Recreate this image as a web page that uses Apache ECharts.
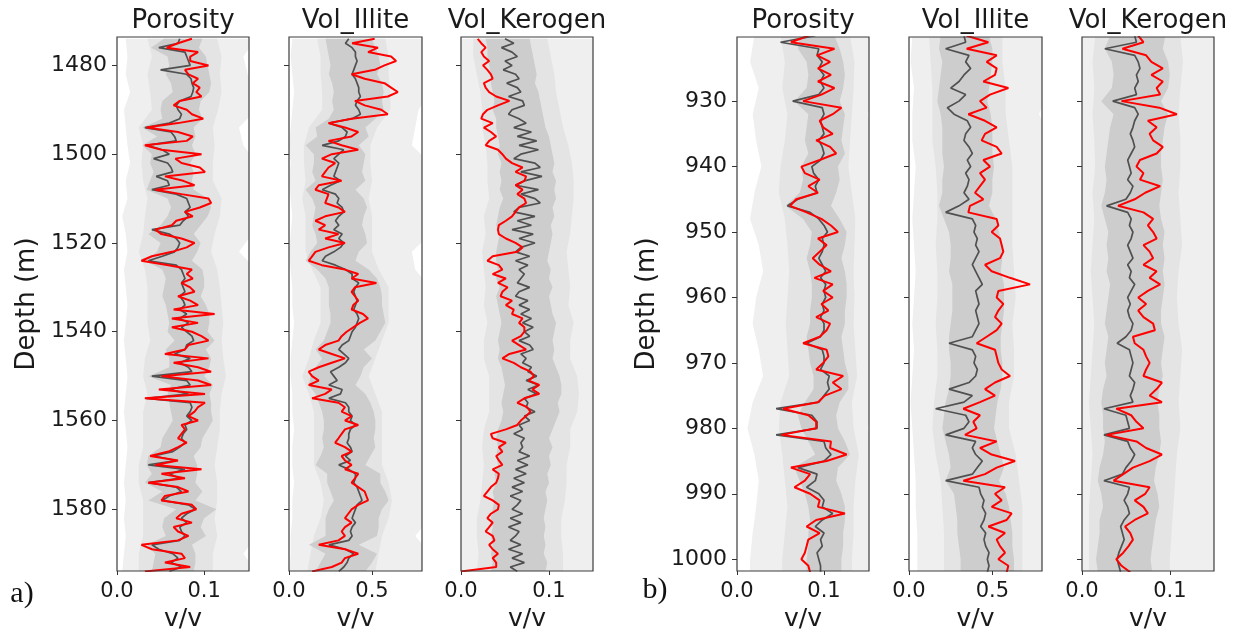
<!DOCTYPE html>
<html><head><meta charset="utf-8">
<script src="https://cdn.jsdelivr.net/npm/echarts@6/dist/echarts.min.js"></script>
<style>html,body{margin:0;padding:0;background:#fff}#c{width:1242px;height:636px}</style>
</head><body><div id="c"></div>
<script>
// ---------------- depth grids ----------------
const depthA = [1474,1475,1476,1477,1478,1479,1480,1481,1482,1483,
1484,1485,1486,1487,1488,1489,1490,1491,1492,1493,
1494,1495,1496,1497,1498,1499,1500,1501,1502,1503,
1504,1505,1506,1507,1508,1509,1510,1511,1512,1513,
1514,1515,1516,1517,1518,1519,1520,1521,1522,1523,
1524,1525,1526,1527,1528,1529,1530,1531,1532,1533,
1534,1535,1536,1537,1538,1539,1540,1541,1542,1543,
1544,1545,1546,1547,1548,1549,1550,1551,1552,1553,
1554,1555,1556,1557,1558,1559,1560,1561,1562,1563,
1564,1565,1566,1567,1568,1569,1570,1571,1572,1573,
1574,1575,1576,1577,1578,1579,1580,1581,1582,1583,
1584,1585,1586,1587,1588,1589,1590,1591,1592,1593,
1594];
const depthA2 = [1474,1476,1478,1480,1482,1484,1486,1488,1490,1492,
1494,1496,1498,1500,1502,1504,1506,1508,1510,1512,
1514,1516,1518,1520,1522,1524,1526,1528,1530,1532,
1534,1536,1538,1540,1542,1544,1546,1548,1550,1552,
1554,1556,1558,1560,1562,1564,1566,1568,1570,1572,
1574,1576,1578,1580,1582,1584,1586,1588,1590,1592,
1594];
const depthA4 = [1474,1478,1482,1486,1490,1494,1498,1502,1506,1510,1514,1518,1522,1526,1530,1534,1538,1542,1546,1550,1554,1558,1562,1566,1570,1574,1578,1582,1586,1590,1594];
const depthB = [920,921,922,923,924,925,926,927,928,929,
930,931,932,933,934,935,936,937,938,939,
940,941,942,943,944,945,946,947,948,949,
950,951,952,953,954,955,956,957,958,959,
960,961,962,963,964,965,966,967,968,969,
970,971,972,973,974,975,976,977,978,979,
980,981,982,983,984,985,986,987,988,989,
990,991,992,993,994,995,996,997,998,999,
1000,1001,1002];
const depthB2 = [920,922,924,926,928,930,932,934,936,938,
940,942,944,946,948,950,952,954,956,958,
960,962,964,966,968,970,972,974,976,978,
980,982,984,986,988,990,992,994,996,998,
1000,1002];
const depthB4 = [920,924,928,932,936,940,944,948,952,956,960,964,968,972,976,980,984,988,992,996,1000,1004];

// ---------------- a) Porosity ----------------
const porTrueA = [0.086,0.070,0.057,0.093,0.084,0.084,0.105,0.078,0.082,0.093,
0.087,0.095,0.091,0.097,0.072,0.065,0.080,0.086,0.099,0.070,
0.034,0.070,0.087,0.080,0.032,0.051,0.097,0.067,0.074,0.095,
0.101,0.055,0.076,0.089,0.044,0.074,0.105,0.108,0.095,0.078,
0.087,0.068,0.063,0.044,0.051,0.074,0.089,0.080,0.063,0.040,
0.028,0.059,0.086,0.080,0.087,0.074,0.084,0.089,0.070,0.084,
0.093,0.065,0.112,0.063,0.093,0.063,0.086,0.097,0.105,0.082,
0.078,0.055,0.105,0.065,0.093,0.108,0.051,0.093,0.108,0.048,
0.101,0.032,0.101,0.093,0.089,0.082,0.093,0.074,0.078,0.074,
0.070,0.080,0.070,0.059,0.038,0.070,0.044,0.097,0.051,0.078,
0.036,0.070,0.082,0.055,0.051,0.086,0.091,0.074,0.068,0.086,
0.065,0.070,0.082,0.070,0.028,0.040,0.074,0.078,0.055,0.084,
0.032];
const porMeanA = [0.072,0.070,0.048,0.078,0.080,0.082,0.084,0.050,0.080,0.085,
0.086,0.088,0.087,0.085,0.072,0.068,0.070,0.074,0.072,0.060,
0.032,0.062,0.066,0.068,0.034,0.052,0.060,0.042,0.058,0.062,
0.064,0.045,0.058,0.060,0.040,0.068,0.080,0.082,0.084,0.078,
0.082,0.076,0.072,0.040,0.060,0.068,0.072,0.070,0.066,0.052,
0.036,0.068,0.074,0.076,0.078,0.074,0.076,0.078,0.072,0.076,
0.078,0.072,0.080,0.072,0.082,0.074,0.080,0.086,0.088,0.080,
0.078,0.066,0.084,0.072,0.082,0.086,0.040,0.080,0.084,0.060,
0.082,0.034,0.084,0.086,0.084,0.080,0.086,0.078,0.080,0.076,
0.074,0.078,0.072,0.064,0.042,0.068,0.036,0.078,0.060,0.072,
0.036,0.068,0.074,0.060,0.052,0.082,0.090,0.080,0.074,0.080,
0.072,0.074,0.078,0.072,0.040,0.048,0.064,0.070,0.062,0.074,
0.060];
const porInLoA = [0.054,0.039,0.058,0.060,0.056,0.062,0.064,0.052,0.050,0.052,
0.029,0.046,0.029,0.040,0.038,0.042,0.038,0.034,0.058,0.062,
0.058,0.050,0.036,0.050,0.046,0.032,0.052,0.056,0.054,0.052,
0.056,0.058,0.060,0.058,0.066,0.056,0.060,0.060,0.036,0.062,
0.058,0.060,0.062,0.064,0.058,0.052,0.050,0.036,0.034,0.040,
0.032,0.052,0.036,0.068,0.054,0.052,0.056,0.034,0.044,0.042,
0.040];
const porInHiA = [0.098,0.094,0.102,0.104,0.106,0.108,0.106,0.096,0.094,0.098,
0.088,0.090,0.086,0.090,0.084,0.088,0.086,0.088,0.104,0.108,
0.104,0.096,0.088,0.096,0.092,0.086,0.098,0.100,0.100,0.096,
0.102,0.106,0.106,0.104,0.112,0.102,0.108,0.106,0.100,0.110,
0.106,0.108,0.108,0.110,0.104,0.098,0.096,0.088,0.092,0.092,
0.090,0.098,0.090,0.114,0.100,0.096,0.102,0.086,0.090,0.090,
0.088];
const porMidLoA = [0.035,0.040,0.035,0.038,0.040,0.025,0.030,0.028,0.030,0.035,0.032,0.030,0.025,0.032,0.035,0.035,0.035,0.038,0.032,0.030,0.035,0.030,0.030,0.030,0.025,0.025,0.030,0.030,0.030,0.025,0.025];
const porMidHiA = [0.115,0.120,0.118,0.120,0.116,0.110,0.112,0.110,0.110,0.120,0.118,0.112,0.108,0.115,0.118,0.120,0.122,0.120,0.122,0.125,0.120,0.118,0.118,0.115,0.112,0.115,0.115,0.112,0.115,0.110,0.110];
const porOutLoA = [0.010,0.012,0.010,0.015,0.008,0.010,0.012,0.015,0.010,0.012,0.006,0.010,0.012,0.008,0.010,0.012,0.010,0.008,0.010,0.012,0.010,0.008,0.010,0.012,0.010,0.008,0.010,0.008,0.010,0.008,0.006];
const porOutHiA = [0.160,0.145,0.150,0.160,0.160,0.140,0.145,0.160,0.160,0.160,0.160,0.155,0.140,0.160,0.160,0.160,0.160,0.160,0.160,0.160,0.150,0.160,0.160,0.160,0.160,0.160,0.160,0.155,0.160,0.145,0.160];

// ---------------- a) Vol_Illite ----------------
const illTrueA = [0.516,0.380,0.536,0.476,0.615,0.645,0.575,0.516,0.377,0.456,
0.575,0.615,0.655,0.595,0.397,0.456,0.556,0.595,0.377,0.238,
0.337,0.417,0.377,0.238,0.317,0.417,0.258,0.198,0.278,0.238,
0.218,0.198,0.317,0.179,0.159,0.238,0.228,0.218,0.298,0.337,
0.218,0.159,0.218,0.179,0.298,0.218,0.337,0.238,0.159,0.139,
0.119,0.198,0.337,0.417,0.377,0.526,0.397,0.377,0.397,0.417,
0.387,0.377,0.446,0.476,0.427,0.387,0.347,0.317,0.298,0.218,
0.179,0.258,0.337,0.258,0.179,0.119,0.139,0.179,0.119,0.258,
0.218,0.139,0.298,0.337,0.317,0.377,0.337,0.417,0.337,0.317,
0.298,0.278,0.337,0.377,0.317,0.337,0.377,0.337,0.417,0.397,
0.377,0.417,0.456,0.466,0.476,0.417,0.377,0.357,0.337,0.377,
0.337,0.317,0.337,0.298,0.179,0.337,0.417,0.337,0.317,0.258,
0.139];
const illMeanA = [0.36,0.34,0.38,0.40,0.40,0.41,0.40,0.39,0.38,0.40,
0.41,0.42,0.42,0.43,0.41,0.40,0.42,0.43,0.38,0.24,
0.32,0.35,0.34,0.30,0.20,0.33,0.30,0.27,0.30,0.29,
0.28,0.27,0.31,0.25,0.20,0.28,0.30,0.29,0.32,0.33,
0.30,0.28,0.30,0.27,0.32,0.30,0.33,0.31,0.27,0.22,
0.20,0.28,0.34,0.38,0.38,0.42,0.40,0.39,0.40,0.41,
0.40,0.39,0.41,0.42,0.41,0.40,0.38,0.37,0.36,0.32,
0.30,0.33,0.36,0.34,0.30,0.25,0.27,0.29,0.24,0.32,
0.31,0.24,0.34,0.36,0.36,0.38,0.37,0.40,0.37,0.36,
0.36,0.35,0.37,0.38,0.34,0.37,0.30,0.36,0.40,0.40,
0.39,0.41,0.42,0.43,0.44,0.41,0.40,0.39,0.38,0.40,
0.38,0.37,0.38,0.36,0.24,0.34,0.39,0.36,0.35,0.33,
0.30];
const illInLoA = [0.22,0.23,0.24,0.25,0.24,0.26,0.27,0.26,0.27,0.24,
0.16,0.17,0.10,0.15,0.15,0.14,0.16,0.10,0.14,0.16,
0.15,0.14,0.16,0.17,0.13,0.10,0.17,0.22,0.24,0.24,
0.24,0.25,0.25,0.23,0.21,0.16,0.20,0.16,0.13,0.12,
0.16,0.18,0.20,0.21,0.21,0.20,0.21,0.19,0.16,0.23,
0.23,0.25,0.27,0.24,0.22,0.22,0.22,0.12,0.22,0.19,
0.16];
const illInHiA = [0.50,0.52,0.54,0.55,0.53,0.56,0.57,0.56,0.57,0.52,
0.46,0.48,0.42,0.46,0.45,0.44,0.46,0.40,0.45,0.47,
0.45,0.44,0.46,0.47,0.42,0.40,0.48,0.53,0.55,0.56,
0.56,0.57,0.58,0.55,0.52,0.45,0.50,0.45,0.43,0.40,
0.46,0.49,0.51,0.52,0.52,0.51,0.52,0.49,0.46,0.55,
0.55,0.58,0.60,0.56,0.54,0.54,0.53,0.42,0.53,0.50,
0.46];
const illMidLoA = [0.17,0.19,0.19,0.20,0.20,0.12,0.09,0.09,0.10,0.08,0.10,0.10,0.10,0.14,0.19,0.19,0.19,0.15,0.12,0.08,0.12,0.15,0.15,0.15,0.15,0.19,0.21,0.19,0.15,0.13,0.11];
const illMidHiA = [0.58,0.60,0.60,0.61,0.61,0.53,0.49,0.49,0.50,0.48,0.50,0.50,0.50,0.54,0.60,0.60,0.60,0.56,0.52,0.48,0.52,0.56,0.56,0.56,0.56,0.60,0.62,0.60,0.56,0.54,0.52];
const illOutLoA = [0.02,0.01,0.02,0.03,0.02,0.01,0.00,0.01,0.00,0.01,0.02,0.01,0.00,0.01,0.02,0.02,0.03,0.02,0.01,0.01,0.02,0.02,0.03,0.02,0.02,0.03,0.02,0.02,0.01,0.01,0.00];
const illOutHiA = [0.85,0.85,0.85,0.85,0.78,0.76,0.74,0.85,0.85,0.85,0.85,0.85,0.74,0.76,0.85,0.85,0.85,0.85,0.85,0.85,0.85,0.85,0.85,0.85,0.85,0.85,0.85,0.85,0.76,0.85,0.85];

// ---------------- a) Vol_Kerogen ----------------
const kerTrueA = [0.019,0.023,0.028,0.023,0.026,0.032,0.025,0.030,0.034,0.036,
0.026,0.028,0.032,0.040,0.055,0.042,0.030,0.025,0.023,0.036,
0.026,0.034,0.040,0.032,0.028,0.042,0.047,0.051,0.058,0.070,
0.062,0.074,0.072,0.062,0.070,0.064,0.072,0.074,0.066,0.062,
0.058,0.051,0.043,0.042,0.043,0.051,0.062,0.070,0.064,0.036,
0.030,0.043,0.047,0.036,0.051,0.042,0.053,0.047,0.045,0.058,
0.051,0.060,0.058,0.070,0.066,0.072,0.072,0.068,0.058,0.066,
0.074,0.055,0.047,0.060,0.068,0.079,0.083,0.077,0.089,0.081,
0.089,0.072,0.064,0.075,0.079,0.074,0.068,0.064,0.051,0.034,
0.036,0.051,0.043,0.047,0.040,0.043,0.047,0.036,0.043,0.042,
0.040,0.034,0.030,0.026,0.036,0.043,0.042,0.034,0.030,0.036,
0.032,0.028,0.036,0.038,0.032,0.036,0.042,0.036,0.040,0.040,
0.000];
const kerMeanA = [0.050,0.060,0.046,0.058,0.064,0.050,0.058,0.048,0.062,0.066,
0.052,0.064,0.068,0.054,0.070,0.072,0.058,0.054,0.066,0.074,
0.060,0.080,0.064,0.086,0.066,0.088,0.068,0.060,0.084,0.090,
0.068,0.092,0.072,0.062,0.088,0.068,0.084,0.090,0.066,0.060,
0.084,0.064,0.080,0.058,0.082,0.066,0.084,0.068,0.062,0.078,
0.062,0.076,0.066,0.072,0.068,0.064,0.078,0.066,0.062,0.076,
0.066,0.078,0.068,0.080,0.070,0.082,0.072,0.078,0.066,0.078,
0.082,0.068,0.074,0.070,0.080,0.076,0.086,0.074,0.088,0.076,
0.086,0.072,0.076,0.074,0.084,0.072,0.078,0.066,0.070,0.060,
0.072,0.068,0.070,0.066,0.078,0.064,0.076,0.062,0.074,0.060,
0.072,0.058,0.070,0.056,0.068,0.064,0.058,0.070,0.056,0.068,
0.054,0.066,0.062,0.056,0.068,0.054,0.070,0.058,0.072,0.056,
0.064];
const kerInLoA = [0.028,0.030,0.030,0.032,0.034,0.034,0.036,0.038,0.036,0.040,
0.040,0.042,0.044,0.042,0.046,0.044,0.046,0.044,0.048,0.044,
0.042,0.040,0.044,0.042,0.040,0.040,0.042,0.040,0.044,0.040,
0.042,0.044,0.046,0.044,0.042,0.044,0.042,0.046,0.048,0.050,
0.048,0.046,0.048,0.046,0.042,0.040,0.042,0.040,0.042,0.038,
0.040,0.036,0.038,0.036,0.034,0.036,0.034,0.036,0.034,0.036,
0.034];
const kerInHiA = [0.078,0.080,0.082,0.084,0.086,0.084,0.088,0.090,0.092,0.094,
0.096,0.100,0.102,0.104,0.106,0.104,0.108,0.106,0.108,0.104,
0.106,0.102,0.104,0.102,0.100,0.098,0.102,0.100,0.104,0.100,
0.102,0.104,0.108,0.106,0.104,0.106,0.104,0.108,0.112,0.114,
0.114,0.110,0.112,0.108,0.104,0.100,0.104,0.100,0.102,0.098,
0.100,0.096,0.098,0.096,0.094,0.096,0.094,0.096,0.094,0.098,
0.096];
const kerMidLoA = [0.014,0.014,0.018,0.022,0.024,0.024,0.028,0.030,0.030,0.032,0.026,0.028,0.024,0.026,0.028,0.026,0.030,0.026,0.026,0.032,0.032,0.032,0.026,0.024,0.026,0.024,0.022,0.018,0.018,0.020,0.018];
const kerMidHiA = [0.098,0.102,0.106,0.108,0.112,0.116,0.122,0.126,0.128,0.128,0.126,0.124,0.120,0.122,0.124,0.122,0.128,0.124,0.124,0.132,0.134,0.132,0.124,0.124,0.120,0.120,0.118,0.114,0.114,0.116,0.116];
const kerOutLoA = [0,0,0,0,0,0,0,0,0,0,0,0,0,0,0,0,0,0,0,0,0,0,0,0,0,0,0,0,0,0,0];
const kerOutHiA = [0.17,0.17,0.17,0.17,0.17,0.17,0.17,0.17,0.17,0.17,0.17,0.17,0.17,0.17,0.17,0.17,0.17,0.17,0.17,0.17,0.17,0.17,0.17,0.17,0.17,0.17,0.17,0.17,0.17,0.17,0.17];

// ---------------- b) Porosity ----------------
const porTrueB = [0.082,0.062,0.112,0.092,0.107,0.093,0.108,0.093,0.112,0.097,
0.076,0.120,0.110,0.095,0.099,0.110,0.091,0.107,0.114,0.095,
0.074,0.078,0.095,0.082,0.093,0.068,0.061,0.080,0.097,0.108,
0.116,0.093,0.103,0.095,0.087,0.095,0.108,0.089,0.110,0.099,
0.110,0.097,0.105,0.091,0.107,0.103,0.095,0.076,0.103,0.105,
0.099,0.091,0.122,0.110,0.120,0.101,0.093,0.053,0.082,0.091,
0.091,0.051,0.108,0.107,0.126,0.103,0.062,0.084,0.078,0.066,
0.084,0.095,0.093,0.124,0.091,0.080,0.095,0.082,0.080,0.078,
0.074,0.082,0.084];
const porMeanB = [0.090,0.050,0.094,0.092,0.098,0.094,0.100,0.096,0.100,0.094,
0.064,0.098,0.100,0.096,0.098,0.100,0.094,0.098,0.100,0.096,
0.086,0.088,0.094,0.090,0.092,0.070,0.058,0.084,0.094,0.100,
0.104,0.098,0.100,0.098,0.094,0.098,0.102,0.096,0.102,0.100,
0.102,0.098,0.100,0.096,0.100,0.100,0.096,0.080,0.098,0.100,
0.100,0.096,0.106,0.104,0.106,0.100,0.094,0.045,0.086,0.092,
0.092,0.045,0.100,0.102,0.108,0.100,0.070,0.092,0.090,0.080,
0.094,0.100,0.098,0.110,0.098,0.090,0.100,0.096,0.098,0.092,
0.094,0.096,0.096];
const porInLoB = [0.072,0.070,0.080,0.082,0.080,0.066,0.082,0.080,0.078,0.082,
0.074,0.076,0.072,0.056,0.076,0.086,0.084,0.080,0.084,0.086,
0.086,0.084,0.084,0.080,0.082,0.084,0.088,0.088,0.078,0.070,
0.074,0.082,0.090,0.066,0.072,0.078,0.082,0.084,0.082,0.082,
0.080,0.080];
const porInHiB = [0.112,0.118,0.122,0.124,0.122,0.118,0.124,0.122,0.120,0.124,
0.116,0.118,0.114,0.108,0.118,0.126,0.124,0.120,0.124,0.126,
0.126,0.124,0.124,0.120,0.122,0.124,0.128,0.128,0.118,0.114,
0.116,0.124,0.130,0.116,0.114,0.120,0.124,0.124,0.122,0.122,
0.120,0.120];
const porMidLoB = [0.050,0.055,0.052,0.058,0.055,0.050,0.048,0.055,0.058,0.060,0.058,0.056,0.058,0.060,0.050,0.048,0.052,0.055,0.058,0.055,0.052,0.052];
const porMidHiB = [0.130,0.135,0.134,0.132,0.130,0.128,0.132,0.136,0.135,0.134,0.135,0.134,0.136,0.138,0.132,0.134,0.140,0.136,0.134,0.134,0.132,0.132];
const porOutLoB = [0.020,0.015,0.025,0.018,0.022,0.028,0.020,0.015,0.025,0.030,0.022,0.018,0.025,0.030,0.018,0.012,0.020,0.025,0.022,0.018,0.015,0.015];
const porOutHiB = [0.16,0.16,0.16,0.15,0.16,0.16,0.16,0.16,0.16,0.16,0.16,0.16,0.16,0.16,0.16,0.15,0.16,0.16,0.16,0.16,0.16,0.16];

// ---------------- b) Vol_Illite ----------------
const illTrueB = [0.346,0.476,0.346,0.526,0.466,0.526,0.516,0.446,0.596,0.486,
0.426,0.466,0.356,0.456,0.526,0.456,0.436,0.526,0.556,0.446,
0.486,0.426,0.456,0.426,0.396,0.446,0.366,0.356,0.526,0.536,
0.496,0.546,0.556,0.566,0.546,0.456,0.496,0.606,0.726,0.536,
0.526,0.566,0.536,0.516,0.556,0.526,0.466,0.406,0.516,0.526,
0.536,0.556,0.606,0.516,0.456,0.516,0.426,0.326,0.426,0.386,
0.406,0.336,0.526,0.426,0.496,0.636,0.526,0.456,0.326,0.576,
0.516,0.556,0.496,0.616,0.586,0.476,0.576,0.526,0.546,0.576,
0.536,0.596,0.586];
const illMeanB = [0.33,0.34,0.22,0.36,0.34,0.37,0.33,0.30,0.25,0.34,
0.30,0.23,0.27,0.35,0.37,0.34,0.33,0.36,0.38,0.35,
0.37,0.34,0.36,0.35,0.33,0.36,0.30,0.22,0.38,0.40,
0.39,0.41,0.40,0.42,0.40,0.38,0.40,0.42,0.44,0.40,
0.41,0.42,0.40,0.41,0.42,0.40,0.38,0.24,0.38,0.40,
0.39,0.41,0.40,0.36,0.24,0.38,0.33,0.16,0.34,0.36,
0.33,0.22,0.40,0.38,0.40,0.44,0.41,0.38,0.22,0.42,
0.43,0.45,0.44,0.46,0.45,0.43,0.46,0.45,0.46,0.48,
0.47,0.48,0.47];
const illInLoB = [0.19,0.18,0.20,0.19,0.18,0.17,0.19,0.20,0.20,0.20,
0.21,0.20,0.20,0.18,0.21,0.24,0.25,0.25,0.24,0.26,
0.26,0.26,0.25,0.24,0.24,0.25,0.25,0.24,0.22,0.21,
0.20,0.22,0.24,0.25,0.22,0.27,0.28,0.29,0.29,0.30,
0.31,0.31];
const illInHiB = [0.48,0.50,0.50,0.49,0.48,0.47,0.49,0.50,0.50,0.50,
0.51,0.50,0.50,0.48,0.52,0.54,0.56,0.56,0.55,0.57,
0.57,0.57,0.56,0.55,0.55,0.56,0.56,0.55,0.53,0.52,
0.51,0.53,0.55,0.57,0.54,0.58,0.60,0.61,0.62,0.62,
0.63,0.63];
const illMidLoB = [0.12,0.13,0.14,0.14,0.14,0.16,0.17,0.17,0.16,0.17,0.17,0.16,0.17,0.17,0.15,0.14,0.16,0.19,0.20,0.21,0.21,0.21];
const illMidHiB = [0.56,0.56,0.58,0.58,0.60,0.62,0.62,0.62,0.62,0.63,0.64,0.62,0.63,0.63,0.60,0.60,0.64,0.66,0.68,0.68,0.68,0.68];
const illOutLoB = [0.02,0.01,0.03,0.02,0.02,0.04,0.03,0.02,0.03,0.04,0.03,0.02,0.03,0.02,0.01,0.02,0.03,0.04,0.04,0.05,0.05,0.05];
const illOutHiB = [0.85,0.85,0.85,0.78,0.85,0.85,0.85,0.85,0.85,0.85,0.85,0.85,0.85,0.85,0.85,0.85,0.85,0.85,0.85,0.85,0.85,0.85];

// ---------------- b) Vol_Kerogen ----------------
const kerTrueB = [0.064,0.070,0.046,0.073,0.079,0.092,0.079,0.092,0.085,0.089,
0.045,0.088,0.108,0.075,0.085,0.077,0.081,0.092,0.085,0.066,
0.062,0.070,0.066,0.089,0.072,0.060,0.041,0.070,0.081,0.075,
0.081,0.085,0.070,0.077,0.081,0.070,0.085,0.077,0.089,0.075,
0.064,0.073,0.064,0.070,0.081,0.083,0.058,0.060,0.070,0.073,
0.077,0.073,0.070,0.091,0.085,0.077,0.091,0.039,0.056,0.062,
0.070,0.028,0.062,0.073,0.091,0.077,0.058,0.047,0.036,0.077,
0.072,0.060,0.070,0.075,0.060,0.049,0.055,0.058,0.053,0.047,
0.039,0.045,0.055];
const kerMeanB = [0.060,0.062,0.026,0.060,0.064,0.066,0.062,0.064,0.060,0.062,
0.035,0.060,0.064,0.060,0.058,0.055,0.058,0.060,0.056,0.052,
0.054,0.056,0.052,0.058,0.055,0.050,0.028,0.052,0.056,0.054,
0.058,0.056,0.052,0.055,0.058,0.052,0.056,0.054,0.060,0.056,
0.052,0.055,0.052,0.054,0.058,0.056,0.050,0.040,0.054,0.056,
0.058,0.056,0.054,0.060,0.058,0.055,0.058,0.025,0.050,0.052,
0.054,0.025,0.052,0.055,0.060,0.056,0.050,0.046,0.025,0.054,
0.052,0.048,0.052,0.054,0.048,0.044,0.046,0.048,0.045,0.042,
0.040,0.042,0.044];
const kerInLoB = [0.032,0.026,0.034,0.036,0.034,0.022,0.036,0.032,0.030,0.028,
0.026,0.028,0.026,0.022,0.026,0.030,0.028,0.030,0.028,0.032,
0.030,0.028,0.026,0.030,0.028,0.026,0.028,0.024,0.022,0.024,
0.024,0.026,0.024,0.020,0.018,0.022,0.024,0.020,0.020,0.018,
0.016,0.018];
const kerInHiB = [0.095,0.092,0.098,0.100,0.098,0.090,0.098,0.094,0.092,0.090,
0.090,0.092,0.090,0.088,0.090,0.094,0.092,0.094,0.092,0.094,
0.092,0.090,0.090,0.094,0.092,0.090,0.092,0.088,0.086,0.088,
0.088,0.090,0.088,0.084,0.082,0.086,0.088,0.084,0.082,0.080,
0.078,0.080];
const kerMidLoB = [0.015,0.012,0.014,0.012,0.014,0.015,0.012,0.014,0.012,0.010,0.012,0.014,0.012,0.010,0.008,0.010,0.012,0.010,0.008,0.008,0.008,0.008];
const kerMidHiB = [0.112,0.115,0.112,0.110,0.112,0.112,0.110,0.112,0.114,0.110,0.108,0.110,0.114,0.112,0.110,0.112,0.108,0.106,0.104,0.102,0.100,0.100];
const kerOutLoB = [0,0,0,0,0,0,0,0,0,0,0,0,0,0,0,0,0,0,0,0,0,0];
const kerOutHiB = [0.17,0.17,0.17,0.17,0.17,0.17,0.17,0.17,0.17,0.17,0.17,0.17,0.17,0.17,0.17,0.17,0.17,0.17,0.17,0.17,0.17,0.17];

// ---------------- axes / labels ----------------
const trackNames = ['Porosity', 'Vol_Illite', 'Vol_Kerogen'];
const depthTicksA = [1480, 1500, 1520, 1540, 1560, 1580];
const depthTicksB = [930, 940, 950, 960, 970, 980, 990, 1000];
const xTicksPor = [0, 0.1], xTicksIll = [0, 0.5], xTicksKer = [0, 0.1];

// ---------------- layout (styling only) ----------------
const FONT = '"DejaVu Sans", sans-serif';
const TOP = 37, HEIGHT = 534;
const panels = [
  {left:117, width:132, xmax:0.1515, xt:xTicksPor, ymin:1473.6, ymax:1593.9, yt:depthTicksA, first:true,
   d1:depthA, d2:depthA2, d4:depthA4, tr:porTrueA, mn:porMeanA, il:porInLoA, ih:porInHiA, ml:porMidLoA, mh:porMidHiA, ol:porOutLoA, oh:porOutHiA},
  {left:289, width:133, xmax:0.801, xt:xTicksIll, ymin:1473.6, ymax:1593.9, yt:depthTicksA,
   d1:depthA, d2:depthA2, d4:depthA4, tr:illTrueA, mn:illMeanA, il:illInLoA, ih:illInHiA, ml:illMidLoA, mh:illMidHiA, ol:illOutLoA, oh:illOutHiA},
  {left:461, width:132, xmax:0.150, xt:xTicksKer, ymin:1473.6, ymax:1593.9, yt:depthTicksA,
   d1:depthA, d2:depthA2, d4:depthA4, tr:kerTrueA, mn:kerMeanA, il:kerInLoA, ih:kerInHiA, ml:kerMidLoA, mh:kerMidHiA, ol:kerOutLoA, oh:kerOutHiA},
  {left:737, width:132, xmax:0.1517, xt:xTicksPor, ymin:920.2, ymax:1001.8, yt:depthTicksB, first:true,
   d1:depthB, d2:depthB2, d4:depthB4, tr:porTrueB, mn:porMeanB, il:porInLoB, ih:porInHiB, ml:porMidLoB, mh:porMidHiB, ol:porOutLoB, oh:porOutHiB},
  {left:909, width:133, xmax:0.798, xt:xTicksIll, ymin:920.2, ymax:1001.8, yt:depthTicksB,
   d1:depthB, d2:depthB2, d4:depthB4, tr:illTrueB, mn:illMeanB, il:illInLoB, ih:illInHiB, ml:illMidLoB, mh:illMidHiB, ol:illOutLoB, oh:illOutHiB},
  {left:1082, width:132, xmax:0.1503, xt:xTicksKer, ymin:920.2, ymax:1001.8, yt:depthTicksB,
   d1:depthB, d2:depthB2, d4:depthB4, tr:kerTrueB, mn:kerMeanB, il:kerInLoB, ih:kerInHiB, ml:kerMidLoB, mh:kerMidHiB, ol:kerOutLoB, oh:kerOutHiB}
];

function band(idx, depths, lo, hi, color) {
  return {
    type: 'custom', xAxisIndex: idx, yAxisIndex: idx, data: [0], silent: true, z: 1,
    renderItem: function (params, api) {
      const pts = [];
      for (let i = 0; i < depths.length; i++) pts.push(api.coord([lo[i], depths[i]]));
      for (let i = depths.length - 1; i >= 0; i--) pts.push(api.coord([hi[i], depths[i]]));
      const cs = params.coordSys;
      return { type: 'polygon', shape: { points: pts }, style: { fill: color },
        clipPath: { type: 'rect', shape: { x: cs.x, y: cs.y, width: cs.width, height: cs.height } } };
    }
  };
}
function curve(idx, depths, vals, color, width, z) {
  return { type: 'line', xAxisIndex: idx, yAxisIndex: idx, data: depths.map((d, j) => [vals[j], d]),
    showSymbol: false, symbol: 'none', clip: true, z: z, silent: true,
    lineStyle: { color: color, width: width }, emphasis: { disabled: true } };
}

const grids = [], xAxes = [], yAxes = [], series = [], graphics = [];
panels.forEach((p, i) => {
  grids.push({ left: p.left, top: TOP, width: p.width, height: HEIGHT, show: true, z: 10,
    containLabel: false, outerBoundsMode: 'none',
    backgroundColor: 'transparent', borderColor: '#3c3c3c', borderWidth: 1.2 });
  xAxes.push({ gridIndex: i, type: 'value', min: 0, max: p.xmax, position: 'bottom',
    axisLine: { show: false }, splitLine: { show: false },
    axisTick: { show: true, customValues: p.xt, length: 4, lineStyle: { color: '#333' } },
    axisLabel: { customValues: p.xt, fontSize: 21, color: '#1a1a1a', fontFamily: FONT, margin: 10,
      formatter: v => Number(v).toFixed(1) },
    name: 'v/v', nameLocation: 'middle', nameGap: 35,
    nameTextStyle: { fontSize: 25, color: '#1a1a1a', fontFamily: FONT } });
  yAxes.push({ gridIndex: i, type: 'value', inverse: true, min: p.ymin, max: p.ymax,
    axisLine: { show: false }, splitLine: { show: false },
    axisTick: { show: true, customValues: p.yt, length: 5, lineStyle: { color: '#333' } },
    axisLabel: { show: !!p.first, customValues: p.yt, fontSize: 22, color: '#1a1a1a', fontFamily: FONT, margin: 10,
      formatter: v => String(Math.round(v)) },
    name: p.first ? 'Depth (m)' : '', nameLocation: 'middle', nameGap: 77,
    nameTextStyle: { fontSize: 26, color: '#1a1a1a', fontFamily: FONT } });
  series.push(band(i, p.d4, p.ol, p.oh, '#efefef'));
  series.push(band(i, p.d4, p.ml, p.mh, '#e4e4e4'));
  series.push(band(i, p.d2, p.il, p.ih, '#cdcdcd'));
  series.push(curve(i, p.d1, p.mn, '#505050', 1.7, 3));
  series.push(curve(i, p.d1, p.tr, '#ff0000', 2, 4));
  graphics.push({ type: 'text', x: p.left + p.width / 2, y: 21, silent: true,
    style: { text: trackNames[i % 3], font: '26px ' + FONT, fill: '#1a1a1a',
      textAlign: 'center', textVerticalAlign: 'middle', align: 'center', verticalAlign: 'middle' } });
});
graphics.push({ type: 'text', x: 22, y: 594, silent: true,
  style: { text: 'a)', font: '30px "Liberation Serif", serif', fill: '#111', textAlign: 'center', textVerticalAlign: 'middle', align: 'center', verticalAlign: 'middle' } });
graphics.push({ type: 'text', x: 655, y: 590, silent: true,
  style: { text: 'b)', font: '30px "Liberation Serif", serif', fill: '#111', textAlign: 'center', textVerticalAlign: 'middle', align: 'center', verticalAlign: 'middle' } });

const chart = echarts.init(document.getElementById('c'), null, { renderer: 'canvas' });
chart.setOption({
  backgroundColor: '#ffffff', animation: false,
  textStyle: { fontFamily: FONT },
  grid: grids, xAxis: xAxes, yAxis: yAxes, series: series, graphic: graphics
});
</script></body></html>
